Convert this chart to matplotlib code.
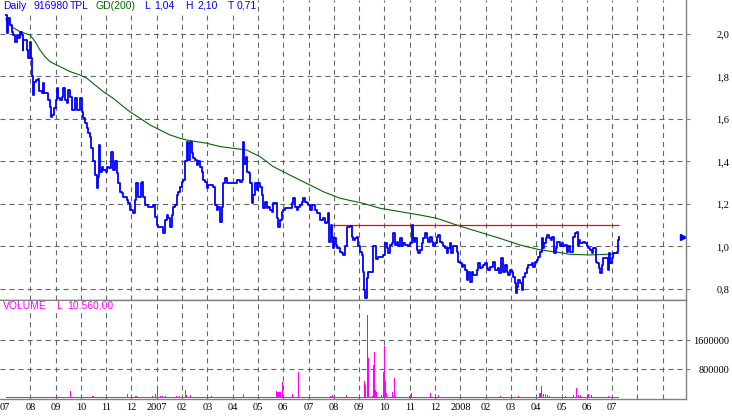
import matplotlib
matplotlib.use("Agg")
import matplotlib.pyplot as plt
from matplotlib.patches import Rectangle

# time axis: months since July 2006 (0 = Jul 2006)
price_t = [0.03, 0.09, 0.13, 0.20, 0.26, 0.33, 0.40, 0.46, 0.53, 0.59, 0.66, 0.70, 0.72, 0.86, 0.88, 0.92,
           0.99, 1.03, 1.08, 1.12, 1.16, 1.23, 1.29, 1.36, 1.45, 1.51, 1.55, 1.65, 1.71, 1.78, 1.81, 1.87,
           1.94, 2.00, 2.04, 2.11, 2.17, 2.24, 2.30, 2.37, 2.44, 2.50, 2.57, 2.64, 2.70, 2.77, 2.83, 2.90,
           2.96, 3.03, 3.09, 3.16, 3.23, 3.29, 3.36, 3.39, 3.49, 3.56, 3.62, 3.69, 3.73, 3.75, 3.82, 3.89,
           3.99, 4.04, 4.12, 4.19, 4.26, 4.35, 4.42, 4.48, 4.55, 4.61, 4.68, 4.81, 4.87, 4.94, 5.05, 5.14,
           5.18, 5.27, 5.36, 5.42, 5.47, 5.53, 5.66, 5.86, 5.93, 6.00, 6.06, 6.19, 6.26, 6.32, 6.39, 6.45,
           6.52, 6.59, 6.65, 6.72, 6.79, 6.85, 6.92, 6.98, 7.05, 7.11, 7.18, 7.25, 7.31, 7.38, 7.44, 7.51,
           7.58, 7.64, 7.71, 7.77, 7.84, 7.91, 7.97, 8.04, 8.23, 8.30, 8.37, 8.43, 8.50, 8.56, 8.63, 8.70,
           8.76, 9.02, 9.16, 9.29, 9.36, 9.42, 9.45, 9.53, 9.58, 9.66, 9.68, 9.75, 9.81, 9.88, 9.95, 10.01,
           10.08, 10.15, 10.21, 10.28, 10.34, 10.41, 10.47, 10.54, 10.61, 10.74, 10.80, 10.87, 10.94, 11.00,
           11.07, 11.26, 11.33, 11.40, 11.46, 11.53, 11.59, 11.66, 11.73, 11.79, 11.86, 11.92, 11.99, 12.06,
           12.12, 12.19, 12.25, 12.32, 12.45, 12.58, 12.65, 12.72, 12.78, 12.82, 12.87, 12.92, 12.95, 13.00,
           13.07, 13.13, 13.24, 13.31, 13.37, 13.44, 13.51, 13.64, 13.70, 13.77, 13.83, 13.90, 13.96, 14.03,
           14.10, 14.16, 14.19, 14.23, 14.30, 14.36, 14.49, 14.56, 14.62, 14.66, 14.76, 14.89, 14.95, 15.02,
           15.09, 15.15, 15.22, 15.28, 15.35, 15.42, 15.48, 15.55, 15.61, 15.68, 15.74, 15.81, 15.94, 16.01,
           16.07, 16.11, 16.17, 16.21, 16.27, 16.34, 16.40, 16.47, 16.53, 16.60, 16.67, 16.73, 16.80, 16.86,
           16.93, 17.00, 17.06, 17.13, 17.19, 17.26, 17.32, 17.39, 17.46, 17.52, 17.59, 17.65, 17.72, 17.79,
           17.85, 17.92, 17.98, 18.05, 18.11, 18.18, 18.25, 18.31, 18.38, 18.45, 18.51, 18.58, 18.64, 18.71,
           18.77, 18.84, 18.90, 18.97, 19.04, 19.10, 19.17, 19.24, 19.30, 19.37, 19.43, 19.50, 19.54, 19.59,
           19.66, 19.70, 19.76, 19.83, 19.89, 19.96, 20.03, 20.09, 20.16, 20.20, 20.25, 20.29, 20.36, 20.42,
           20.49, 20.55, 20.62, 20.68, 20.75, 20.82, 20.88, 20.95, 21.02, 21.08, 21.15, 21.21, 21.25, 21.30,
           21.37, 21.43, 21.50, 21.57, 21.63, 21.70, 21.77, 21.83, 21.90, 21.94, 22.00, 22.07, 22.13, 22.20,
           22.27, 22.33, 22.40, 22.46, 22.53, 22.60, 22.64, 22.69, 22.73, 22.79, 22.86, 22.92, 22.99, 23.06,
           23.12, 23.19, 23.25, 23.32, 23.36, 23.41, 23.48, 23.52, 23.58, 23.62, 23.76, 23.82, 23.86, 23.91,
           23.98, 24.04, 24.18, 24.22, 24.28]
price = [2.089, 2.003, 2.074, 2.04, 2.01, 1.995, 1.964, 1.995, 1.98, 2.01, 1.995, 1.925, 1.97, 1.97, 1.925, 1.886,
         1.964, 1.886, 1.80, 1.713, 1.776, 1.784, 1.79, 1.73, 1.72, 1.768, 1.72, 1.72, 1.69, 1.658, 1.611, 1.62,
         1.65, 1.69, 1.744, 1.697, 1.69, 1.705, 1.744, 1.69, 1.674, 1.736, 1.705, 1.642, 1.642, 1.697, 1.642, 1.642,
         1.697, 1.634, 1.603, 1.58, 1.556, 1.533, 1.517, 1.462, 1.40, 1.336, 1.274, 1.329, 1.478, 1.352, 1.376, 1.36,
         1.352, 1.376, 1.368, 1.446, 1.36, 1.40, 1.344, 1.297, 1.258, 1.25, 1.234, 1.219, 1.203, 1.172, 1.156, 1.219,
         1.297, 1.234, 1.297, 1.305, 1.234, 1.195, 1.187, 1.195, 1.14, 1.10, 1.093, 1.093, 1.062, 1.125, 1.148, 1.133,
         1.093, 1.148, 1.187, 1.195, 1.242, 1.258, 1.281, 1.305, 1.313, 1.40, 1.493, 1.407, 1.493, 1.439, 1.415, 1.407,
         1.384, 1.40, 1.376, 1.352, 1.313, 1.305, 1.274, 1.289, 1.281, 1.195, 1.172, 1.187, 1.117, 1.187, 1.297, 1.321,
         1.297, 1.297, 1.313, 1.305, 1.313, 1.493, 1.39, 1.42, 1.352, 1.344, 1.297, 1.203, 1.242, 1.297, 1.266, 1.297,
         1.281, 1.242, 1.18, 1.211, 1.18, 1.187, 1.172, 1.164, 1.203, 1.133, 1.093, 1.125, 1.164, 1.172,
         1.18, 1.18, 1.203, 1.227, 1.187, 1.172, 1.187, 1.195, 1.211, 1.227, 1.211, 1.203, 1.195, 1.172,
         1.195, 1.195, 1.172, 1.156, 1.125, 1.133, 1.109, 1.117, 1.156, 1.023, 1.10, 1.046, 0.992, 1.038,
         1.007, 0.992, 0.976, 0.968, 0.96, 1.0, 1.093, 1.098, 1.046, 1.031, 1.038, 1.046, 1.0, 0.976,
         0.96, 0.881, 0.795, 0.756, 0.85, 0.881, 0.881, 1.0, 1.0, 0.94, 0.952, 0.952, 0.96, 1.015,
         0.992, 0.968, 1.007, 1.015, 1.062, 1.007, 1.023, 1.0, 1.038, 1.0, 1.015, 1.007, 1.0, 1.015,
         1.10, 1.038, 1.023, 1.038, 0.984, 0.968, 0.984, 1.015, 1.038, 1.062, 1.038, 1.023, 1.046, 1.023,
         1.0, 1.015, 1.046, 1.054, 1.023, 1.015, 1.0, 0.992, 0.968, 0.992, 1.015, 0.968, 1.0, 1.0,
         0.976, 0.929, 0.921, 0.905, 0.913, 0.889, 0.842, 0.881, 0.834, 0.881, 0.866, 0.866, 0.889, 0.921,
         0.897, 0.905, 0.913, 0.921, 0.897, 0.889, 0.905, 0.905, 0.929, 0.889, 0.889, 0.897, 0.874, 0.944,
         0.944, 0.881, 0.913, 0.881, 0.866, 0.889, 0.881, 0.858, 0.827, 0.78, 0.811, 0.842, 0.827, 0.795,
         0.858, 0.874, 0.897, 0.913, 0.913, 0.921, 0.905, 0.929, 0.937, 0.952, 0.976, 1.038, 0.992, 1.015,
         1.038, 1.054, 1.038, 1.031, 1.046, 0.968, 0.992, 1.023, 1.023, 1.0, 1.015, 1.0, 1.007, 0.976,
         1.0, 0.976, 0.976, 1.046, 1.062, 1.07, 1.0, 1.031, 1.015, 1.015, 1.023, 1.015, 1.0, 0.992,
         0.984, 0.968, 0.992, 0.992, 0.929, 0.921, 0.897, 0.874, 0.913, 0.944, 0.944, 0.889, 0.968, 0.921,
         0.944, 0.968, 0.976, 1.031, 1.046]

# GD(200) moving average
ma_t = [0.03, 0.26, 0.59, 0.99, 1.19, 1.38, 1.58, 1.78, 2.04, 2.30, 2.57, 2.96, 3.23, 3.56, 3.89, 4.28,
        4.68, 4.94, 5.34, 5.73, 6.13, 6.52, 6.92, 7.18, 7.58, 7.97, 8.50, 9.02, 9.55, 9.68, 10.08, 10.60,
        11.26, 11.92, 12.58, 13.24, 14.16, 14.82, 15.61, 16.40, 17.06, 17.72, 18.25, 18.91, 19.57, 20.36,
        21.15, 21.94, 22.33, 23.12, 23.78, 24.24]
ma = [2.07, 2.034, 2.011, 1.995, 1.964, 1.925, 1.893, 1.87, 1.854, 1.839, 1.823, 1.807, 1.792, 1.76, 1.728, 1.697,
      1.658, 1.634, 1.603, 1.572, 1.548, 1.525, 1.509, 1.501, 1.493, 1.486, 1.47, 1.462, 1.454, 1.446, 1.423, 1.376,
      1.336, 1.297, 1.258, 1.227, 1.203, 1.18, 1.164, 1.148, 1.133, 1.106, 1.086, 1.062, 1.038, 1.007,
      0.984, 0.971, 0.963, 0.96, 0.963, 0.968]

# resistance line
res_level = 1.10
res_start, res_end = 12.94, 24.27

# volume spikes (months, shares); base_volume = typical daily turnover
vol_t = [1.09, 2.04, 2.60, 3.48, 4.00, 4.85, 5.18, 5.43, 5.84, 5.96, 6.04, 6.13, 6.23, 6.35, 6.79, 6.89,
         7.13, 7.18, 7.32, 8.15, 8.60, 9.42, 10.72, 10.78, 10.83, 10.87, 10.98, 11.36, 11.59, 12.85, 12.94,
         13.07, 13.51, 13.93, 14.14, 14.20, 14.26, 14.32, 14.36, 14.53, 14.56, 14.60, 14.64, 14.68, 14.89,
         14.95, 14.99, 15.03, 15.07, 15.26, 15.31, 15.39, 15.43, 15.88, 16.01, 16.07, 16.27, 16.81, 17.02,
         17.13, 17.46, 17.72, 17.89, 18.25, 19.59, 20.19, 20.29, 21.15, 21.20, 21.27, 21.36, 21.43, 21.51,
         21.99, 22.17, 22.46, 22.60, 22.66, 22.74, 23.07, 23.17, 23.86, 24.17, 24.21]
volume = [37000, 64000, 200000, 55000, 40000, 120000, 50000, 45000, 64000, 120000, 340000, 64000, 64000, 64000,
          64000, 64000, 230000, 92000, 92000, 64000, 45000, 120000, 200000, 165000, 180000, 180000, 460000,
          120000, 726000, 64000, 92000, 45000, 92000, 45000, 45000, 478000, 368000, 2280000, 1100000, 64000,
          920000, 1270000, 230000, 165000, 92000, 736000, 1440000, 478000, 156000, 45000, 165000, 560000,
          64000, 45000, 64000, 138000, 45000, 147000, 110000, 92000, 45000, 45000, 45000, 45000, 64000,
          45000, 64000, 147000, 340000, 120000, 120000, 92000, 64000, 45000, 55000, 92000, 285000, 92000,
          92000, 120000, 92000, 64000, 45000, 45000]
base_volume = 28000

month_labels = ['07', '08', '09', '10', '11', '12', '2007', '02', '03', '04', '05', '06', '07', '08', '09',
                '10', '11', '12', '2008', '02', '03', '04', '05', '06', '07']
grid_months = list(range(1, 27))
price_ticks = [0.8, 1.0, 1.2, 1.4, 1.6, 1.8, 2.0]
vol_ticks = [800000, 1600000]

W, H = 732, 417
GRID = '#666666'
AXIS = '#808080'
DASH = (0, (3.6, 2.9))

plt.rcParams['lines.scale_dashes'] = False
fig = plt.figure(figsize=(W / 100, H / 100), dpi=100)
fig.patch.set_facecolor('white')

ax = fig.add_axes([0, 1 - 300 / H, 686 / W, 300 / H])
axv = fig.add_axes([0, 1 - 399 / H, 686 / W, 99 / H], sharex=ax)

xmin, xmax = -0.198, 26.92
ax.set_xlim(xmin, xmax)
ax.set_ylim(0.748, 2.16)
axv.set_ylim(-19000, 2703000)

# grids
for m in grid_months:
    ax.axvline(m, color=GRID, lw=0.8, ls=DASH, zorder=0)
    axv.axvline(m, color=GRID, lw=0.8, ls=DASH, zorder=0)
for p in price_ticks:
    ax.axhline(p, color=GRID, lw=0.8, ls=DASH, zorder=0)
for v in vol_ticks:
    axv.axhline(v, color=GRID, lw=0.8, ls=DASH, zorder=0)

# price panel
ax.plot(price_t, price, color='#0000ff', lw=1.3, drawstyle='steps-post', zorder=3)
ax.plot(ma_t, ma, color='#006a00', lw=0.8, zorder=2)
ax.hlines(res_level, res_start, res_end, color='#ff0000', lw=0.9, zorder=2)
ax.plot([26.8], [price[-1]], marker='>', color='#0000ff', ms=4, clip_on=False)

# volume panel
axv.fill_between([price_t[0], price_t[-1]], 0, base_volume, color='#ff00ff', lw=0)
axv.bar(vol_t, volume, width=0.045, color='#ff00ff', linewidth=0)

for a in (ax, axv):
    a.set_facecolor('white')
    a.spines['left'].set_visible(False)
    for s in ('right', 'top', 'bottom'):
        a.spines[s].set_color(AXIS)
        a.spines[s].set_linewidth(1.0)
    a.yaxis.tick_right()
ax.spines['top'].set_visible(False)

serif = 'Liberation Serif'
ax.set_yticks(price_ticks)
ax.set_yticklabels([f"{p:.1f}".replace('.', ',') for p in price_ticks], family=serif, fontsize=7.5, ha='right')
ax.tick_params(axis='y', length=3, color=AXIS, pad=28)
ax.tick_params(axis='x', bottom=False, labelbottom=False)

axv.set_yticks(vol_ticks)
axv.set_yticklabels([str(v) for v in vol_ticks], family=serif, fontsize=7.5, ha='right')
axv.tick_params(axis='y', length=3, color=AXIS, pad=28)
axv.set_xticks(range(len(month_labels)))
axv.set_xticklabels(month_labels, family=serif, fontsize=7.5)
axv.tick_params(axis='x', length=0, pad=3)

# white bands behind the caption texts
fig.add_artist(Rectangle((0, 1 - 13 / H), 256 / W, 13 / H, transform=fig.transFigure,
                         facecolor='white', edgecolor='none', zorder=5))
fig.add_artist(Rectangle((0, 1 - 311 / H), 108 / W, 10 / H, transform=fig.transFigure,
                         facecolor='white', edgecolor='none', zorder=5))

# header texts
sans = 'Liberation Sans'
hy = 1 - 6 / H
for x, s, c in [(3, 'Daily', '#0000ff'), (33, '916980', '#0000ff'), (70, 'TPL', '#0000ff'),
                (96, 'GD(200)', '#006a00'), (144, 'L', '#0000ff'), (154, '1,04', '#0000ff'),
                (185, 'H', '#0000ff'), (197, '2,10', '#0000ff'), (228, 'T', '#0000ff'),
                (237, '0,71', '#0000ff')]:
    fig.text(x / W, hy, s, color=c, family=sans, fontsize=7.5, va='center', ha='left', zorder=6)

vy = 1 - 306 / H
for x, s in [(3, 'VOLUME'), (56, 'L'), (67, '10.560,00')]:
    fig.text(x / W, vy, s, color='#ff00ff', family=sans, fontsize=7.5, va='center', ha='left', zorder=6)

fig.savefig('out.png', dpi=100, facecolor='white')
